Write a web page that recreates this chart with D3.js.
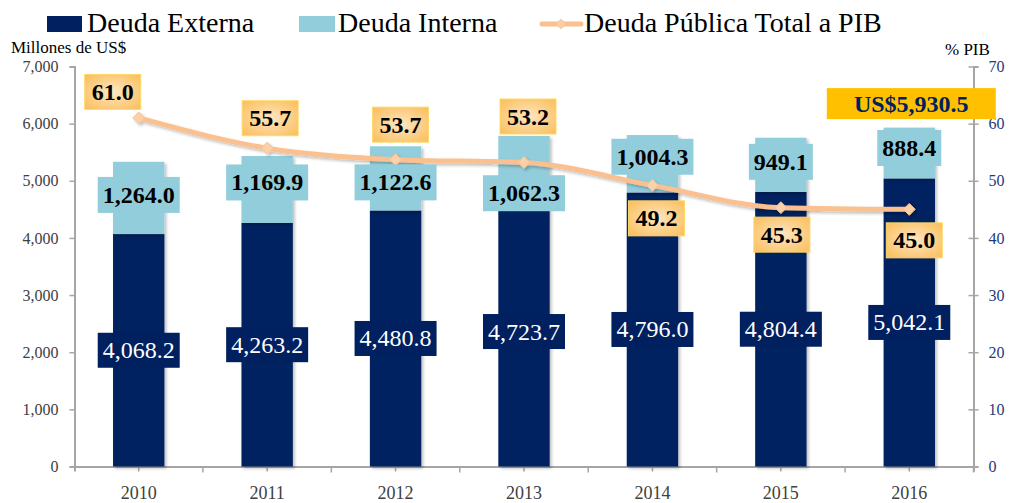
<!DOCTYPE html>
<html>
<head>
<meta charset="utf-8">
<script src="https://cdn.jsdelivr.net/npm/d3@7/dist/d3.min.js"></script>
<style>
  html, body { margin: 0; padding: 0; background: #ffffff; }
  svg { display: block; font-family: "Liberation Serif", "Times New Roman", serif; }
  svg text { font-family: "Liberation Serif", "Times New Roman", serif; }
</style>
</head>
<body>
<svg id="chart" width="1009" height="503"></svg>
<script>
// ---- data ----
const categories = ["2010", "2011", "2012", "2013", "2014", "2015", "2016"];
const deudaExterna = [4068.2, 4263.2, 4480.8, 4723.7, 4796.0, 4804.4, 5042.1];
const deudaInterna = [1264.0, 1169.9, 1122.6, 1062.3, 1004.3, 949.1, 888.4];
const deudaPIB = [61.0, 55.7, 53.7, 53.2, 49.2, 45.3, 45.0];
const leftTicks = [0, 1000, 2000, 3000, 4000, 5000, 6000, 7000];
const rightTicks = [0, 10, 20, 30, 40, 50, 60, 70];
const seriesNames = ["Deuda Externa", "Deuda Interna", "Deuda Pública Total a PIB"];
const leftAxisTitle = "Millones de US$";
const rightAxisTitle = "% PIB";
const totalPrefix = "US$";

// ---- layout (label nudges) ----
const pibLabelDx = [-26, 3, 5, 4, 4, 1, 5];
const pibLabelDy = [-26, -30, -35, -46, 33, 27, 31];
const internaLabelDy = [-3, -7, 4, 27, -7, -3, -5];

const C = {
  navy: "#002060", light: "#92cddc", line: "#fac090", axis: "#a6a6a6",
  tick: "#404040", rtick: "#1f3a78", gold: "#ffc000"
};

const svg = d3.select("#chart");
const defs = svg.append("defs");
const grad = defs.append("radialGradient").attr("id", "og").attr("cx", "50%").attr("cy", "50%").attr("r", "70%");
grad.append("stop").attr("offset", "0%").attr("stop-color", "#fde6c4");
grad.append("stop").attr("offset", "100%").attr("stop-color", "#fbbd57");
const sh = defs.append("filter").attr("id", "sh").attr("x", "-20%").attr("y", "-20%").attr("width", "150%").attr("height", "150%");
sh.append("feDropShadow").attr("dx", 2).attr("dy", 2).attr("stdDeviation", 1.5).attr("flood-color", "#000").attr("flood-opacity", 0.25);

const x0 = 74.5, x1 = 973.5, yBottom = 466.5, yTop = 66.5;
const x = d3.scaleBand().domain(categories).range([x0, x1]).paddingInner(0.6).paddingOuter(0.3);
const yL = d3.scaleLinear().domain([0, 7000]).range([yBottom, yTop]);
const yR = d3.scaleLinear().domain([0, 70]).range([yBottom, yTop]);
const cx = c => x(c) + x.bandwidth() / 2;
const fmt = d3.format(",.1f");
const SERIF = "Liberation Serif";

// ---- axes ----
const gL = svg.append("g").attr("transform", `translate(${x0},0)`)
  .call(d3.axisLeft(yL).tickValues(leftTicks).tickFormat(d3.format(",")).tickSizeOuter(0).tickSize(5).tickPadding(11));
gL.attr("font-family", SERIF);
gL.selectAll("text").attr("fill", C.tick).style("font-size", "16px");
gL.selectAll("line").attr("stroke", C.axis).attr("stroke-width", 1.5);
gL.select(".domain").attr("stroke", C.axis).attr("stroke-width", 2);

const gR = svg.append("g").attr("transform", `translate(${x1},0)`)
  .call(d3.axisRight(yR).tickValues(rightTicks).tickSizeOuter(0).tickSize(5).tickPadding(10));
gR.attr("font-family", SERIF);
gR.selectAll("text").attr("fill", C.rtick).style("font-size", "16px");
gR.selectAll(".tick line").attr("x1", -5).attr("stroke", C.axis).attr("stroke-width", 1.5);
gR.select(".domain").attr("stroke", C.axis).attr("stroke-width", 2);

const gX = svg.append("g").attr("transform", `translate(0,${yBottom})`)
  .call(d3.axisBottom(x).tickSizeOuter(0).tickSize(5).tickPadding(15));
gX.attr("font-family", SERIF);
gX.selectAll("text").attr("fill", C.tick).style("font-size", "18px");
gX.selectAll("line").attr("stroke", C.axis).attr("stroke-width", 1.5);
gX.select(".domain").attr("stroke", C.axis).attr("stroke-width", 2);
gX.selectAll(".bnd").data(categories).enter().append("line").attr("class", "bnd")
  .attr("x1", c => cx(c) + x.step() / 2).attr("x2", c => cx(c) + x.step() / 2)
  .attr("y1", 0).attr("y2", 6).attr("stroke", C.axis).attr("stroke-width", 1.5);

// axis titles
svg.append("text").attr("x", 11).attr("y", 53).attr("fill", "#000").style("font-size", "17px").text(leftAxisTitle);
svg.append("text").attr("x", 945).attr("y", 55).attr("fill", "#000").style("font-size", "17px").text(rightAxisTitle);

// ---- bars ----
const bars = svg.append("g");
bars.selectAll(".ext").data(categories).enter().append("rect")
  .attr("x", c => x(c)).attr("width", x.bandwidth())
  .attr("y", (c, i) => yL(deudaExterna[i])).attr("height", (c, i) => yL(0) - yL(deudaExterna[i]))
  .attr("fill", C.navy).attr("filter", "url(#sh)");
bars.selectAll(".int").data(categories).enter().append("rect")
  .attr("x", c => x(c)).attr("width", x.bandwidth())
  .attr("y", (c, i) => yL(deudaExterna[i] + deudaInterna[i]))
  .attr("height", (c, i) => yL(deudaExterna[i]) - yL(deudaExterna[i] + deudaInterna[i]))
  .attr("fill", C.light).attr("filter", "url(#sh)");

// ---- line ----
const lineGen = d3.line().x((d, i) => cx(categories[i])).y(d => yR(d)).curve(d3.curveMonotoneX);
const lg = svg.append("g").attr("filter", "url(#sh)");
lg.append("path").attr("d", lineGen(deudaPIB)).attr("fill", "none").attr("stroke", C.line).attr("stroke-width", 5);
lg.selectAll(".mk").data(deudaPIB).enter().append("path")
  .attr("d", d3.symbol().type(d3.symbolDiamond2).size(90))
  .attr("transform", (d, i) => `translate(${cx(categories[i])},${yR(d)})`)
  .attr("fill", "#fcd0a8").attr("stroke", C.line).attr("stroke-width", 1);

// label helper
function boxLabel(g, cxp, cyp, txt, opts) {
  const grp = g.append("g");
  const rect = grp.append("rect");
  const t = grp.append("text").attr("x", cxp).attr("y", cyp).attr("text-anchor", "middle")
    .attr("dominant-baseline", "central").attr("fill", opts.color)
    .style("font-size", (opts.size || 24) + "px").style("font-weight", opts.bold ? "bold" : "normal").text(txt);
  const bb = t.node().getBBox();
  const w = opts.width || (bb.width + 2 * (opts.padX || 5));
  const h = opts.height || 35;
  rect.attr("x", cxp - w / 2).attr("y", cyp - h / 2).attr("width", w).attr("height", h)
    .attr("fill", opts.fill).attr("stroke", opts.stroke || "none").attr("stroke-width", 1);
  return grp;
}

const labels = svg.append("g");
categories.forEach((c, i) => {
  const ye = (yL(0) + yL(deudaExterna[i])) / 2;
  boxLabel(labels, cx(c), ye, fmt(deudaExterna[i]), { color: "#fff", fill: C.navy, padX: 5, height: 35 });
  const yi = (yL(deudaExterna[i]) + yL(deudaExterna[i] + deudaInterna[i])) / 2 + internaLabelDy[i];
  boxLabel(labels, cx(c), yi, fmt(deudaInterna[i]), { color: "#000", fill: C.light, bold: true, padX: 5, height: 36 });
});

deudaPIB.forEach((v, i) => {
  boxLabel(labels, cx(categories[i]) + pibLabelDx[i], yR(v) + pibLabelDy[i], v.toFixed(1),
    { color: "#000", fill: "url(#og)", stroke: "#ffd966", bold: true, padX: 7, height: 35 });
});

// total label for last year
const last = categories.length - 1;
const total = deudaExterna[last] + deudaInterna[last];
boxLabel(labels, cx(categories[last]) + 2, yL(total) - 24, totalPrefix + fmt(total),
  { color: C.navy, fill: C.gold, bold: true, width: 169, height: 31 });

// ---- legend ----
const leg = svg.append("g").style("font-size", "28px");
leg.append("rect").attr("x", 47).attr("y", 16).attr("width", 35).attr("height", 16).attr("fill", C.navy);
leg.append("text").attr("x", 87).attr("y", 32).attr("fill", "#000").text(seriesNames[0]);
leg.append("rect").attr("x", 299).attr("y", 16).attr("width", 36).attr("height", 16).attr("fill", C.light);
leg.append("text").attr("x", 338).attr("y", 32).attr("fill", "#000").text(seriesNames[1]);
leg.append("line").attr("x1", 542).attr("x2", 581).attr("y1", 24).attr("y2", 24).attr("stroke", C.line).attr("stroke-width", 5).attr("stroke-linecap", "round");
leg.append("path").attr("d", d3.symbol().type(d3.symbolDiamond2).size(60)).attr("transform", "translate(561,24)").attr("fill", "#fcd0a8").attr("stroke", C.line);
leg.append("text").attr("x", 584).attr("y", 32).attr("fill", "#000").text(seriesNames[2]);
</script>
</body>
</html>
